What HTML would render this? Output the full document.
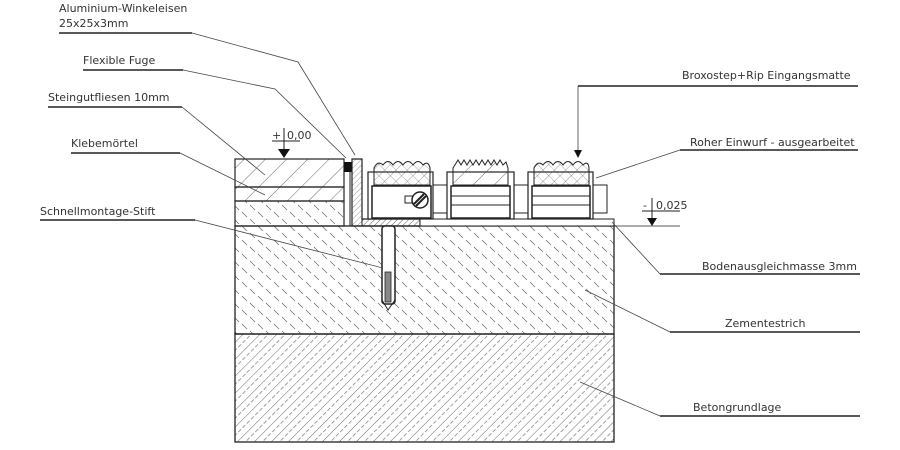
<!DOCTYPE html>
<html><head><meta charset="utf-8"><style>
html,body{margin:0;padding:0;background:#fff;}
svg{display:block}
text{font-family:"DejaVu Sans","Liberation Sans",sans-serif;font-size:11px;fill:#333}
</style></head><body>
<svg width="900" height="450" viewBox="0 0 900 450" xmlns="http://www.w3.org/2000/svg">
<defs>
<pattern id="tile" width="15" height="15" patternUnits="userSpaceOnUse" patternTransform="rotate(45)">
<line x1="0" y1="0" x2="0" y2="15" stroke="#444" stroke-width="0.8"/></pattern>
<pattern id="estr" width="16" height="14" patternUnits="userSpaceOnUse">
<line x1="2" y1="2" x2="7" y2="7" stroke="#666" stroke-width="0.7"/>
<line x1="10" y1="9" x2="15" y2="14" stroke="#666" stroke-width="0.7"/></pattern>
<pattern id="beton" width="12" height="12" patternUnits="userSpaceOnUse" patternTransform="rotate(45)">
<line x1="0" y1="0" x2="0" y2="12" stroke="#444" stroke-width="0.8"/>
<line x1="6" y1="1" x2="6" y2="5" stroke="#777" stroke-width="0.7"/>
<line x1="6" y1="7" x2="6" y2="11" stroke="#777" stroke-width="0.7"/></pattern>
<pattern id="fine" width="4" height="4" patternUnits="userSpaceOnUse" patternTransform="rotate(45)">
<line x1="0" y1="0" x2="0" y2="4" stroke="#555" stroke-width="0.6"/></pattern>
<pattern id="cross" width="8" height="8" patternUnits="userSpaceOnUse" patternTransform="rotate(45)">
<path d="M0 0V8M0 0H8" stroke="#555" stroke-width="0.6" fill="none"/></pattern>
</defs>

<rect x="235" y="334" width="379" height="108" fill="url(#beton)" stroke="#222" stroke-width="1.3"/>
<rect x="235" y="226" width="379" height="108" fill="url(#estr)" stroke="#222" stroke-width="1.3"/>
<rect x="235" y="159" width="109" height="28" fill="url(#tile)" stroke="#222" stroke-width="1.2"/>
<rect x="235" y="187" width="109" height="14" fill="url(#tile)" stroke="#222" stroke-width="1.2"/>
<rect x="235" y="201" width="109" height="25" fill="url(#estr)" stroke="#222" stroke-width="1.2"/>
<rect x="344" y="162" width="8" height="10" fill="#111"/>
<line x1="350" y1="172" x2="350" y2="226" stroke="#222" stroke-width="1"/>
<path d="M352 159 H362 V219 H420 V226 H352 Z" fill="url(#fine)" stroke="#222" stroke-width="1.2"/>
<rect x="420" y="219" width="194" height="7" fill="#fff" stroke="#222" stroke-width="1"/>
<rect x="362" y="219" width="58" height="7" fill="url(#fine)" stroke="#222" stroke-width="1"/>
<rect x="382" y="226" width="13" height="78" rx="3" fill="#fff" stroke="#222" stroke-width="1.5"/>
<rect x="385" y="272" width="6" height="30" fill="#888" stroke="#222" stroke-width="0.8"/>
<path d="M382 300 L388 310 L395 300" fill="none" stroke="#222"/>
<rect x="432" y="185" width="16" height="28" fill="#fff" stroke="#222"/>
<rect x="514" y="185" width="15" height="28" fill="#fff" stroke="#222"/>
<rect x="592" y="185" width="15" height="28" fill="#fff" stroke="#222"/>
<g stroke="#222" fill="#fff">
<rect x="368" y="172" width="65" height="47" stroke-width="1.2"/>
<rect x="372" y="186" width="59" height="32" stroke-width="1.5"/>
<path d="M374 185 V168 Q378 160 383 165 Q388 158 393 165 Q398 158 403 165 Q408 158 413 165 Q418 158 423 165 Q428 160 430 168 V185 Z" fill="url(#cross)" stroke-width="1"/>
<rect x="405" y="196" width="10" height="7"/>
<circle cx="420" cy="200" r="8" stroke-width="1.5"/>
<line x1="414" y1="204" x2="424" y2="194" stroke-width="2"/>
<line x1="416" y1="206" x2="426" y2="196" stroke-width="2"/>
</g>
<g stroke="#222" fill="#fff">
<rect x="447" y="172" width="67" height="47" stroke-width="1.2"/>
<rect x="451" y="186" width="59" height="32" stroke-width="1.5"/>
<line x1="451" y1="196" x2="510" y2="196"/><line x1="451" y1="205" x2="510" y2="205"/>
<path d="M453 185 V168 L458 160 L461 165 L464 160 L467 165 L470 160 L473 165 L476 160 L479 165 L482 160 L485 165 L488 160 L491 165 L494 160 L497 165 L500 160 L503 165 L506 162 L508 168 V185 Z" fill="url(#tile)" stroke-width="1"/>
</g>
<g stroke="#222" fill="#fff">
<rect x="528" y="172" width="65" height="47" stroke-width="1.2"/>
<rect x="532" y="186" width="58" height="32" stroke-width="1.5"/>
<line x1="532" y1="196" x2="590" y2="196"/><line x1="532" y1="205" x2="590" y2="205"/>
<path d="M534 185 V168 Q538 160 543 165 Q548 158 553 165 Q558 158 563 165 Q568 158 573 165 Q578 158 583 165 Q588 160 589 168 V185 Z" fill="url(#cross)" stroke-width="1"/>
</g>

<g stroke="#222" fill="none">
<line x1="272" y1="141" x2="300" y2="141" stroke-width="1"/>
<line x1="284" y1="128" x2="284" y2="150"/>
<line x1="642" y1="211" x2="680" y2="211" stroke-width="1"/>
<line x1="652" y1="198" x2="652" y2="218"/>
<line x1="600" y1="226" x2="680" y2="226" stroke-width="0.8"/>
</g>
<path d="M278 149 L290 149 L284 158 Z" fill="#111"/>
<path d="M647 218 L657 218 L652 226 Z" fill="#111"/>
<text x="272" y="139">+</text><text x="287" y="139">0,00</text>
<text x="643" y="209">-</text><text x="656" y="209">0,025</text>

<g stroke="#444" stroke-width="0.8" fill="none">
<path d="M192 33 L298 62 L355 155"/>
<path d="M183 70 L275 89 L346 158"/>
<path d="M182 107 L265 175"/>
<path d="M180 153 L265 195"/>
<path d="M195 220 L383 268"/>
<path d="M578 86 V150"/>
<path d="M680 150 L596 178"/>
<path d="M660 274 L612 222"/>
<path d="M670 332 L585 290"/>
<path d="M660 416 L580 382"/>
</g>
<path d="M574 150 L582 150 L578 158 Z" fill="#111"/>
<g stroke="#222" stroke-width="1.4">
<line x1="59" y1="33" x2="192" y2="33"/>
<line x1="83" y1="70" x2="183" y2="70"/>
<line x1="48" y1="107" x2="182" y2="107"/>
<line x1="71" y1="153" x2="180" y2="153"/>
<line x1="40" y1="220" x2="195" y2="220"/>
<line x1="578" y1="86" x2="858" y2="86"/>
<line x1="680" y1="150" x2="858" y2="150"/>
<line x1="660" y1="274" x2="860" y2="274"/>
<line x1="670" y1="332" x2="860" y2="332"/>
<line x1="660" y1="416" x2="860" y2="416"/>
</g>
<text x="59" y="12">Aluminium-Winkeleisen</text>
<text x="59" y="27">25x25x3mm</text>
<text x="83" y="64">Flexible Fuge</text>
<text x="48" y="101">Steingutfliesen 10mm</text>
<text x="71" y="147">Klebemörtel</text>
<text x="40" y="215">Schnellmontage-Stift</text>
<text x="682" y="79">Broxostep+Rip Eingangsmatte</text>
<text x="690" y="146">Roher Einwurf - ausgearbeitet</text>
<text x="702" y="270">Bodenausgleichmasse 3mm</text>
<text x="725" y="327">Zementestrich</text>
<text x="693" y="411">Betongrundlage</text>
</svg>
</body></html>
